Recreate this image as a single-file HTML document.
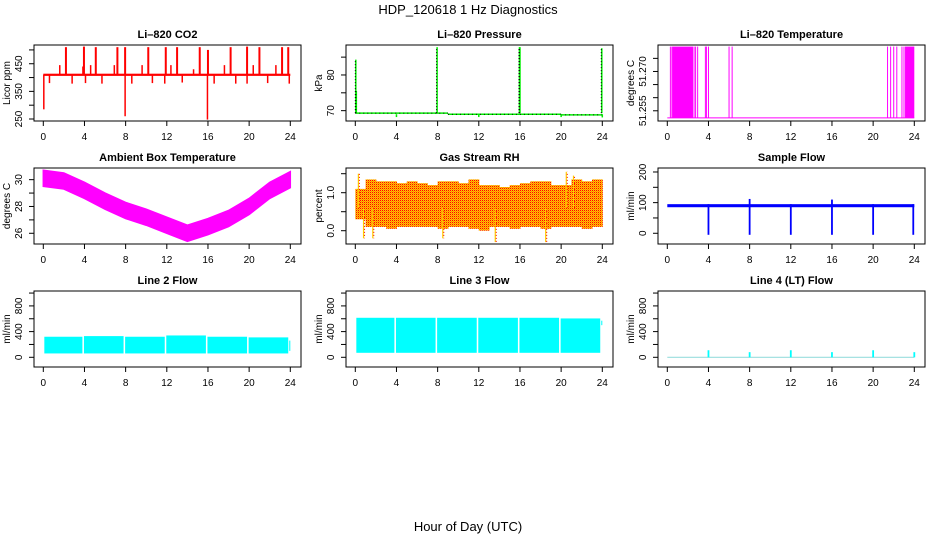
<!DOCTYPE html>
<html><head><meta charset="utf-8"><style>
body{margin:0;background:#fff}
svg{display:block;font-family:"Liberation Sans",Arial,sans-serif}
</style></head><body>
<svg id="c" width="936" height="540" viewBox="0 0 936 540" xmlns="http://www.w3.org/2000/svg">
<defs>
<pattern id="rhpat" width="2" height="2" patternUnits="userSpaceOnUse"><rect width="2" height="2" fill="#ffc800"/><rect width="1" height="1" fill="#ff0000"/><rect x="1" y="1" width="1" height="1" fill="#ff8800"/></pattern>
</defs>
<text x="468" y="14" text-anchor="middle" font-size="13">HDP_120618  1 Hz Diagnostics</text>
<text x="468" y="531" text-anchor="middle" font-size="13">Hour of Day (UTC)</text>
</svg>
<script>
const xTicks=[0,4,8,12,16,20,24];
// CO2
const co2Base=410;
const co2SpikeHours=[2.2,3.95,5.1,7.2,7.95,10.2,11.9,13.0,15.2,16.0,18.2,19.8,21.0,23.2,23.8];
const co2SpikeTops=[510,512,510,510,510,510,510,510,510,500,510,512,510,510,510];
const co2MidHours=[1.6,3.85,4.6,6.9,9.6,12.4,14.6,17.6,20.4,22.6];
const co2MidTops=[445,440,445,445,445,445,430,445,445,445];
const co2DipHours=[0.05,0.6,2.8,4.1,5.7,7.95,8.6,10.6,11.8,13.5,15.95,16.6,18.7,19.8,21.8,23.9];
const co2DipBottoms=[285,380,378,380,378,260,378,380,378,382,248,378,378,378,380,378];
// Pressure
const presSegStart=[0,9,20];
const presSegEnd=[9,20,24];
const presSegVal=[69.3,69.0,68.8];
const presSpikeHours=[0.05,0.1,7.95,15.95,16.0,23.95];
const presSpikeTops=[84.3,75.5,87.8,87.8,87.8,87.5];
const presDipHours=[4,12,20,24];
const presDipBottoms=[68.2,68.2,68.2,68.1];
// Li-820 temperature
const tempBase=51.2523;
const tempLineHours=[0.3,0.45,2.6,2.75,2.95,3.7,3.8,4.0,6.0,6.3,21.4,21.7,22.0,22.3,22.8,23.0];
const tempBandStart=[0.5,23.1];
const tempBandEnd=[2.5,24.0];
const tempTop=51.2795;
// Ambient
const ambHours=[0,2,4,6,8,10,12,14,16,18,20,22,24];
const ambCenter=[30.1,29.9,29.2,28.4,27.7,27.2,26.6,26.0,26.5,27.1,28.0,29.2,30.0];
const ambHalf=[0.6,0.6,0.6,0.6,0.6,0.6,0.6,0.6,0.6,0.6,0.6,0.6,0.6];
// RH
const rhHours=[0,1,2,3,4,5,6,7,8,9,10,11,12,13,14,15,16,17,18,19,20,21,22,23,24];
const rhTop=[1.1,1.35,1.3,1.3,1.25,1.3,1.25,1.2,1.3,1.3,1.25,1.35,1.2,1.2,1.15,1.2,1.25,1.3,1.3,1.2,1.2,1.35,1.3,1.35,1.2];
const rhBottom=[0.3,0.1,0.1,0.05,0.1,0.1,0.1,0.1,0.05,0.1,0.1,0.05,0.0,0.1,0.1,0.05,0.1,0.1,0.05,0.1,0.1,0.1,0.05,0.1,0.1];
const rhSpikeHours=[0.3,0.8,1.7,8.5,13.6,18.5,20.5,21.2];
const rhSpikeVals=[1.5,-0.2,-0.2,-0.2,-0.3,-0.3,1.55,1.45];
// Sample flow
const sfBaseLo=85, sfBaseHi=95;
const sfDipHours=[4,8,12,16,20,23.9];
const sfDipBottoms=[-5,-5,-5,-5,-5,-5];
const sfSpikeTops=[95,112,95,110,95,95];
// Line flows
const lfSegStart=[0.1,3.95,7.95,11.95,15.95,19.95];
const lfSegEnd=[3.8,7.8,11.8,15.8,19.8,23.8];
const l2Tops=[320,330,320,340,320,310];
const l2Bottom=60;
const l2End=[100,260];
const l3Tops=[615,615,615,615,615,605];
const l3Bottom=70;
const l3End=[500,570];
const l4SpikeHours=[4,8,12,16,20,24];
const l4SpikeTops=[110,80,110,80,110,80];

const NS="http://www.w3.org/2000/svg";
const svg=document.getElementById('c');
function mk(tag,attrs,parent){const e=document.createElementNS(NS,tag);for(const k in attrs)e.setAttribute(k,attrs[k]);(parent||svg).appendChild(e);return e;}
const rowTop=[45,168,291], H=76;

function panel(col,row,cfg){
  const g=mk('g',{});
  
  
  const bl=34+312*col, br=301+312*col, bt=rowTop[row], bb=bt+H;
  const x0=43.3+312*col, x24=290.3+312*col;
  const xs=h=>x0+h*(x24-x0)/24;
  const ys=v=>bt+(cfg.ymax-v)/(cfg.ymax-cfg.ymin)*H;
  const data=mk('g',{},g);
  
  
  cfg.draw(data,xs,ys);
  const box=mk('rect',{x:bl,y:bt,width:br-bl,height:H,fill:'none',stroke:'#000','stroke-width':1},g);
  
  
  const t=mk('text',{x:(bl+br)/2,y:bt-7,'text-anchor':'middle','font-size':11,'font-weight':'bold'},g);
  t.textContent=cfg.title;
  
  
  const xa=mk('g',{},g);
  
  
  mk('line',{x1:xs(0),x2:xs(24),y1:bb,y2:bb,stroke:'#000'},xa);
  xTicks.forEach(h=>{mk('line',{x1:xs(h),x2:xs(h),y1:bb,y2:bb+5,stroke:'#000'},xa);
    const tx=mk('text',{x:xs(h),y:bb+19,'text-anchor':'middle','font-size':10},xa);tx.textContent=h;});
  const ya=mk('g',{},g);
  
  
  mk('line',{x1:bl,x2:bl,y1:ys(cfg.yTicks[0]),y2:ys(cfg.yTicks[cfg.yTicks.length-1]),stroke:'#000'},ya);
  cfg.yTicks.forEach((v,i)=>{mk('line',{x1:bl-5,x2:bl,y1:ys(v),y2:ys(v),stroke:'#000'},ya);
    if(cfg.yLabels[i]){const tx=mk('text',{x:0,y:0,'text-anchor':'middle','font-size':10,transform:`translate(${bl-12},${ys(v)}) rotate(-90)`},ya);tx.textContent=cfg.yLabels[i];}});
  const yl=mk('text',{x:0,y:0,'text-anchor':'middle','font-size':10,transform:`translate(${bl-24},${bt+H/2}) rotate(-90)`},g);
  yl.textContent=cfg.ylab;
  
  
}
function vline(p,x,y1,y2,c,w){return mk('line',{x1:x,x2:x,y1:y1,y2:y2,stroke:c,'stroke-width':w||1.3},p);}

panel(0,0,{name:'co2',title:'Li\u2013820 CO2',ylab:'Licor ppm',ymin:242.8,ymax:517.8,yTicks:[250,300,350,400,450,500],yLabels:['250','','350','','450',''],
 draw:(p,xs,ys)=>{
  mk('rect',{x:xs(0),y:ys(co2Base+4),width:xs(24)-xs(0),height:ys(co2Base-4)-ys(co2Base+4),fill:'#ff0000'},p);
  co2SpikeHours.forEach((h,i)=>{vline(p,xs(h),ys(co2Base),ys(co2SpikeTops[i]),'#ff0000',2);});
  co2MidHours.forEach((h,i)=>{vline(p,xs(h),ys(co2Base),ys(co2MidTops[i]),'#ff0000',1.5);});
  co2DipHours.forEach((h,i)=>{vline(p,xs(h),ys(co2Base),ys(co2DipBottoms[i]),'#ff0000',1.5);});
 }});
panel(1,0,{name:'pressure',title:'Li\u2013820 Pressure',ylab:'kPa',ymin:67.1,ymax:88.4,yTicks:[70,75,80,85],yLabels:['70','','80',''],
 draw:(p,xs,ys)=>{
  presSegStart.forEach((s,i)=>{mk('line',{x1:xs(s),x2:xs(presSegEnd[i]),y1:ys(presSegVal[i]),y2:ys(presSegVal[i]),stroke:'#00ee00','stroke-width':1.5},p);
    mk('line',{x1:xs(s),x2:xs(presSegEnd[i]),y1:ys(presSegVal[i]),y2:ys(presSegVal[i]),stroke:'#000','stroke-width':1,'stroke-dasharray':'1 3'},p);});
  presSpikeHours.forEach((h,i)=>{vline(p,xs(h),ys(69.3),ys(presSpikeTops[i]),'#00ee00',1.5);
    mk('line',{x1:xs(h)-0.5,x2:xs(h)-0.5,y1:ys(69.3),y2:ys(presSpikeTops[i]),stroke:'#000','stroke-width':1,'stroke-dasharray':'1 2'},p);});
  presDipHours.forEach((h,i)=>{vline(p,xs(h),ys(69),ys(presDipBottoms[i]),'#00ee00',1.5);});
 }});
panel(2,0,{name:'li820-temperature',title:'Li\u2013820 Temperature',ylab:'degrees C',ymin:51.2511,ymax:51.2801,yTicks:[51.255,51.26,51.265,51.27,51.275],yLabels:['51.255','','','51.270',''],
 draw:(p,xs,ys)=>{
  mk('line',{x1:xs(0),x2:xs(24),y1:ys(tempBase),y2:ys(tempBase),stroke:'#ff00ff','stroke-width':1},p);
  tempBandStart.forEach((s,i)=>{mk('rect',{x:xs(s),y:ys(tempTop),width:xs(tempBandEnd[i])-xs(s),height:ys(tempBase)-ys(tempTop),fill:'#ff00ff'},p);});
  tempLineHours.forEach(h=>{vline(p,xs(h),ys(tempBase),ys(tempTop),'#ff00ff',1);});
 }});
panel(0,1,{name:'ambient-temperature',title:'Ambient Box Temperature',ylab:'degrees C',ymin:25.2,ymax:30.87,yTicks:[26,27,28,29,30],yLabels:['26','','28','','30'],
 draw:(p,xs,ys)=>{
  const up=ambHours.map((h,i)=>xs(h)+','+ys(ambCenter[i]+ambHalf[i]));
  const dn=ambHours.map((h,i)=>xs(h)+','+ys(ambCenter[i]-ambHalf[i])).reverse();
  mk('polygon',{points:up.concat(dn).join(' '),fill:'#ff00ff',stroke:'#ff00ff','stroke-width':1.5},p);
 }});
panel(1,1,{name:'gas-stream-rh',title:'Gas Stream RH',ylab:'percent',ymin:-0.35,ymax:1.65,yTicks:[0,0.5,1,1.5],yLabels:['0.0','','1.0',''],
 draw:(p,xs,ys)=>{
  for(let i=0;i<rhHours.length-1;i++){
    mk('rect',{x:xs(rhHours[i]),y:ys(rhTop[i]),width:xs(rhHours[i+1])-xs(rhHours[i])+0.5,height:ys(rhBottom[i])-ys(rhTop[i]),fill:'url(#rhpat)'},p);
  }
  rhSpikeHours.forEach((h,i)=>{vline(p,xs(h),ys(0.6),ys(rhSpikeVals[i]),'#ffcc00',1.2);
    mk('line',{x1:xs(h)+1,x2:xs(h)+1,y1:ys(0.6),y2:ys(rhSpikeVals[i]),stroke:'#ff0000','stroke-width':1,'stroke-dasharray':'1 2'},p);});
 }});
panel(2,1,{name:'sample-flow',title:'Sample Flow',ylab:'ml/min',ymin:-35,ymax:213,yTicks:[0,50,100,150,200],yLabels:['0','','100','','200'],
 draw:(p,xs,ys)=>{
  mk('rect',{x:xs(0),y:ys(sfBaseHi),width:xs(24)-xs(0),height:ys(sfBaseLo)-ys(sfBaseHi),fill:'#0000ff'},p);
  sfDipHours.forEach((h,i)=>{vline(p,xs(h),ys(sfSpikeTops[i]),ys(sfDipBottoms[i]),'#0000ff',1.8);});
 }});
function flowPanel(col,name,title,draw){
  panel(col,2,{name:name,title:title,ylab:'ml/min',ymin:-151,ymax:1032,yTicks:[0,200,400,600,800,1000],yLabels:['0','','400','','800',''],draw:draw});
}
flowPanel(0,'line2-flow','Line 2 Flow',(p,xs,ys)=>{
  lfSegStart.forEach((s,i)=>{mk('rect',{x:xs(s),y:ys(l2Tops[i]),width:xs(lfSegEnd[i])-xs(s),height:ys(l2Bottom)-ys(l2Tops[i]),fill:'#00ffff'},p);});
  mk('rect',{x:xs(23.9),y:ys(l2End[1]),width:xs(24)-xs(23.9),height:ys(l2End[0])-ys(l2End[1]),fill:'#00ffff'},p);
});
flowPanel(1,'line3-flow','Line 3 Flow',(p,xs,ys)=>{
  lfSegStart.forEach((s,i)=>{mk('rect',{x:xs(s),y:ys(l3Tops[i]),width:xs(lfSegEnd[i])-xs(s),height:ys(l3Bottom)-ys(l3Tops[i]),fill:'#00ffff'},p);});
  mk('rect',{x:xs(23.9),y:ys(l3End[1]),width:xs(24)-xs(23.9),height:ys(l3End[0])-ys(l3End[1]),fill:'#00ffff'},p);
});
flowPanel(2,'line4-flow','Line 4 (LT) Flow',(p,xs,ys)=>{
  mk('line',{x1:xs(0),x2:xs(24),y1:ys(0),y2:ys(0),stroke:'#9adede','stroke-width':1.2},p);
  l4SpikeHours.forEach((h,i)=>{vline(p,xs(h),ys(0),ys(l4SpikeTops[i]),'#00ffff',1.8);});
});
</script>
</body></html>
